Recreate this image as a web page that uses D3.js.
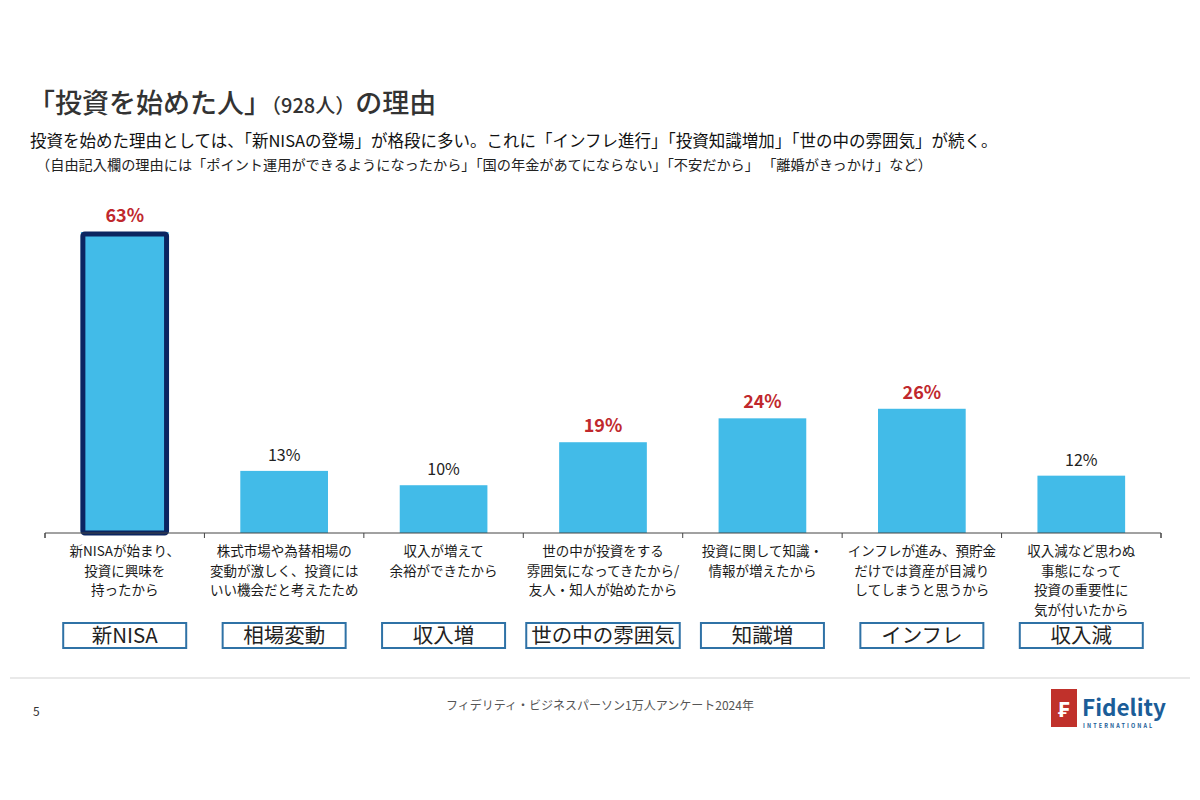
<!DOCTYPE html>
<html><head><meta charset="utf-8">
<script src="https://cdn.jsdelivr.net/npm/d3@7"></script>
<style>
body{margin:0;background:#fff;}
text{font-family:"Noto Sans CJK JP","Noto Sans",sans-serif;}
</style></head>
<body>
<svg id="c" width="1200" height="800"></svg>
<script>
const categories = ["新NISA","相場変動","収入増","世の中の雰囲気","知識増","インフレ","収入減"];
const values = [63,13,10,19,24,26,12];
const valueLabels = ["63%","13%","10%","19%","24%","26%","12%"];
const highlighted = [true,false,false,true,true,true,false];
const descriptions = [
  ["新NISAが始まり、","投資に興味を","持ったから"],
  ["株式市場や為替相場の","変動が激しく、投資には","いい機会だと考えたため"],
  ["収入が増えて","余裕ができたから"],
  ["世の中が投資をする","雰囲気になってきたから/","友人・知人が始めたから"],
  ["投資に関して知識・","情報が増えたから"],
  ["インフレが進み、預貯金","だけでは資産が目減り","してしまうと思うから"],
  ["収入減など思わぬ","事態になって","投資の重要性に","気が付いたから"]
];

const svg = d3.select("#c");
svg.append("rect").attr("width",1200).attr("height",800).attr("fill","#fff");

// Title
const t = svg.append("text").attr("x",28).attr("y",113).attr("fill","#333").attr("font-weight",500);
t.append("tspan").attr("font-size",27).text("「投資を始めた人」");
t.append("tspan").attr("font-size",20).text("（928人）");
t.append("tspan").attr("font-size",27).text("の理由");
svg.append("text").attr("x",30).attr("y",147).attr("font-size",16.5).attr("fill","#111")
  .text("投資を始めた理由としては、「新NISAの登場」が格段に多い。これに「インフレ進行」「投資知識増加」「世の中の雰囲気」が続く。");
svg.append("text").attr("x",36).attr("y",170).attr("font-size",14.2).attr("fill","#222")
  .text("（自由記入欄の理由には「ポイント運用ができるようになったから」「国の年金があてにならない」「不安だから」 「離婚がきっかけ」など）");

const x = d3.scaleBand().domain(categories).range([45,1161]).paddingInner(0.45).paddingOuter(0.225);
const xb = d3.scaleBand().domain(categories).range([45,1161]);
const y = d3.scaleLinear().domain([0,63]).range([533,232]);

// bars
svg.selectAll(".bar").data(categories).enter().append("rect")
  .attr("x",d=>x(d)).attr("width",x.bandwidth())
  .attr("y",(d,i)=>y(values[i])).attr("height",(d,i)=>y(0)-y(values[i]))
  .attr("fill","#42bbe8");
// highlight border for first
svg.append("rect")
  .attr("x",x(categories[0])+2).attr("width",x.bandwidth()-4)
  .attr("y",y(values[0])+2).attr("height",y(0)-y(values[0])-2)
  .attr("fill","none").attr("stroke","#0b2560").attr("stroke-width",5).attr("rx",2);

// value labels
svg.selectAll(".vl").data(categories).enter().append("text")
  .attr("x",d=>x(d)+x.bandwidth()/2)
  .attr("y",(d,i)=>y(values[i])-10)
  .attr("text-anchor","middle")
  .attr("font-family","Liberation Sans, Arial, sans-serif")
  .attr("font-size",(d,i)=>highlighted[i]?18:16)
  .attr("font-weight",(d,i)=>highlighted[i]?"bold":"normal")
  .attr("fill",(d,i)=>highlighted[i]?"#c0282d":"#222")
  .text((d,i)=>valueLabels[i]);

// axis
const ax = svg.append("g").attr("transform","translate(0,533)")
  .call(d3.axisBottom(xb).tickSize(5).tickFormat(""));
ax.select(".domain").attr("stroke","#444").attr("d","M45,5V0H1161V5");
ax.selectAll(".tick").remove();
const tickPos = categories.map(c=>xb(c)).concat([1161]);
svg.selectAll(".tk").data(tickPos).enter().append("line")
  .attr("x1",d=>d).attr("x2",d=>d).attr("y1",533).attr("y2",538).attr("stroke","#444");

// descriptions
categories.forEach((c,i)=>{
  const cx = xb(c)+xb.bandwidth()/2;
  const tx = svg.append("text").attr("text-anchor","middle").attr("font-size",13.5).attr("fill","#1a1a1a");
  descriptions[i].forEach((l,j)=>{
    tx.append("tspan").attr("x",cx).attr("y",556+j*19.5).text(l);
  });
  // boxes
  const lbl = svg.append("text").attr("x",cx).attr("y",643).attr("text-anchor","middle")
    .attr("font-size",20.5).attr("fill","#222").text(c);
  const w = Math.max(123, lbl.node().getComputedTextLength()+10);
  svg.insert("rect","text").attr("x",cx-w/2).attr("y",623).attr("width",w).attr("height",25)
    .attr("fill","#fff").attr("stroke","#2f72a6").attr("stroke-width",2);
});

// footer
svg.append("line").attr("x1",10).attr("x2",1190).attr("y1",678).attr("y2",678).attr("stroke","#e2e2e2").attr("stroke-width",1.5);
svg.append("text").attr("x",33).attr("y",716).attr("font-size",12).attr("fill","#333").text("5");
svg.append("text").attr("x",600).attr("y",710).attr("text-anchor","middle").attr("font-size",12).attr("fill","#555")
  .text("フィデリティ・ビジネスパーソン1万人アンケート2024年");
// logo
svg.append("rect").attr("x",1051).attr("y",689).attr("width",26).attr("height",38).attr("fill","#c0312b");
svg.append("text").attr("x",1064).attr("y",717).attr("text-anchor","middle").attr("font-size",22).attr("font-weight","bold")
  .attr("fill","#fff").attr("font-family","Liberation Sans, Arial, sans-serif").text("₣");
svg.append("text").attr("x",1082).attr("y",716).attr("font-size",22.5).attr("font-weight","bold").attr("fill","#1b5d98")
  .attr("font-family","Liberation Sans, Arial, sans-serif").text("Fidelity");
svg.append("text").attr("x",1083).attr("y",728).attr("font-size",5.5).attr("font-weight","bold").attr("fill","#1b5d98")
  .attr("letter-spacing",2.1).attr("font-family","Liberation Sans, Arial, sans-serif").text("INTERNATIONAL");
</script>
</body></html>
